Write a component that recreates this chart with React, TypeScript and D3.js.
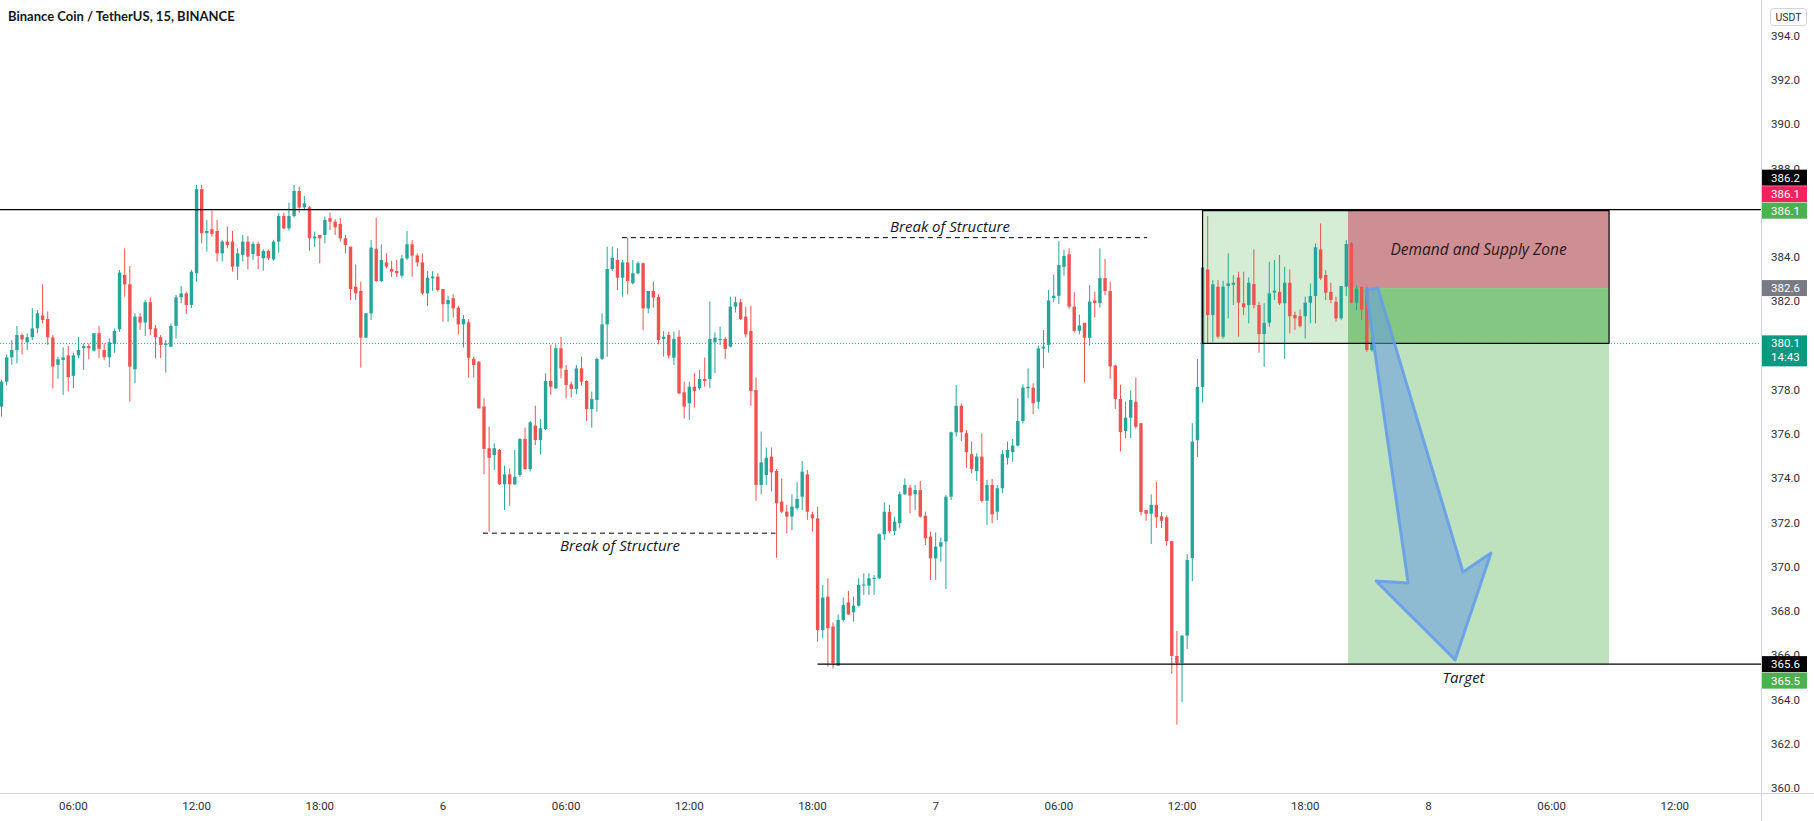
import React from "react";
import * as d3 from "d3";

const W = 1814;
const H = 821;

const title = "Binance Coin / TetherUS, 15, BINANCE";
const firstCandle = "2021-06-05T02:30:00Z";
const candleMinutes = 15;
const timeDomain = ["2021-06-05T00:00:00Z", "2021-06-08T00:00:00Z"];
const priceDomain = [360, 394];
const priceTicks = d3.range(360, 394.01, 2);
const timeTickRange = ["2021-06-05T06:00:00Z", "2021-06-08T12:00:00Z"];

const opens = [
  377.24, 378.37, 379.47, 379.8, 380.48, 380.15, 380.38, 380.78, 381.36, 381.2,
  380.37, 379.13, 379.35, 379.56, 378.63, 379.56, 379.88, 379.98, 379.77, 380.56,
  379.8, 379.47, 380.07, 380.74, 383.19, 382.77, 378.93, 381.31, 381.04, 381.96,
  380.78, 380.38, 380.03, 379.95, 380.89, 382.18, 382.36, 381.84, 383.27, 387.07,
  385.08, 385.26, 385.18, 384.17, 384.7, 384.7, 383.57, 384.1, 384.7, 384.14,
  384.6, 383.95, 384.28, 383.9, 384.7, 385.86, 385.3, 385.86, 386.99, 386.25,
  386.25, 384.85, 385.0, 385.0, 385.76, 385.6, 385.5, 384.85, 384.47, 382.66,
  382.47, 380.36, 381.46, 384.37, 382.92, 383.76, 383.46, 383.37, 383.16, 383.94,
  384.58, 384.07, 383.76, 382.36, 383.04, 383.12, 382.56, 381.87, 382.14, 381.71,
  380.96, 381.05, 379.4, 379.27, 377.24, 375.36, 375.05, 375.28, 373.73, 374.18,
  373.73, 374.15, 375.78, 374.42, 376.38, 375.73, 376.23, 378.4, 378.07, 379.88,
  378.9, 378.25, 378.04, 378.97, 378.4, 377.13, 377.54, 379.4, 380.96, 383.46,
  383.87, 383.07, 383.76, 382.82, 383.27, 383.72, 381.68, 382.47, 382.2, 380.3,
  380.48, 379.45, 380.4, 377.89, 377.39, 378.14, 378.07, 378.49, 378.49, 380.15,
  380.26, 380.3, 379.95, 381.76, 381.96, 381.31, 380.66, 377.99, 373.7, 374.15,
  374.98, 374.33, 372.95, 372.49, 372.27, 372.65, 373.17, 374.18, 372.37, 372.19,
  367.14, 368.65, 367.3, 365.53, 367.6, 368.39, 367.94, 368.24, 369.15, 369.15,
  369.45, 369.48, 371.47, 372.49, 371.62, 371.97, 373.28, 373.58, 373.28, 373.47,
  372.31, 371.36, 370.38, 370.91, 371.14, 373.17, 376.08, 377.28, 376.04, 375.09,
  374.33, 374.98, 372.98, 373.7, 372.49, 373.55, 374.93, 375.18, 375.48, 376.59,
  378.07, 378.1, 377.46, 379.87, 380.03, 382.15, 382.25, 383.56, 384.13, 381.76,
  380.67, 381.03, 380.35, 382.04, 381.92, 383.05, 382.47, 379.1, 377.59, 376.14,
  376.74, 377.46, 376.49, 372.56, 372.4, 372.8, 372.28, 372.24, 371.16, 365.97,
  365.65, 366.89, 370.39, 375.72, 378.13, 383.44, 381.38, 382.66, 380.4, 382.69,
  382.75, 383.08, 381.91, 381.83, 382.78, 381.83, 380.52, 381.03, 382.4, 382.43,
  381.91, 382.84, 381.38, 381.33, 381.33, 381.94, 382.24, 384.35, 383.19, 382.43,
  381.98, 381.23, 382.66, 384.62, 381.94, 382.66, 382.58, 379.8,
];
const highs = [
  378.45, 379.6, 380.25, 380.89, 380.55, 380.55, 381.69, 381.61, 382.77, 381.54,
  380.48, 379.5, 379.92, 379.98, 379.68, 380.38, 380.1, 380.1, 380.56, 380.89,
  380.1, 380.33, 380.78, 383.42, 384.4, 383.6, 381.46, 381.46, 382.06, 382.18,
  380.93, 380.48, 380.25, 381.0, 382.29, 382.7, 382.44, 383.42, 387.26, 387.26,
  385.68, 386.1, 385.68, 384.78, 385.38, 385.18, 384.4, 385.0, 384.96, 384.7,
  384.7, 384.35, 384.35, 384.78, 385.98, 386.01, 386.46, 387.26, 387.19, 386.76,
  386.31, 385.15, 385.0, 385.83, 386.01, 385.71, 385.76, 385.0, 384.47, 383.67,
  382.89, 381.46, 384.77, 385.78, 384.58, 384.17, 383.82, 383.87, 384.1, 385.18,
  384.77, 384.17, 384.17, 383.37, 383.37, 383.27, 382.56, 382.26, 382.32, 381.8,
  381.38, 381.2, 379.5, 379.3, 377.62, 376.33, 375.58, 375.33, 374.57, 374.45,
  375.28, 375.81, 376.29, 376.59, 377.28, 376.68, 378.75, 380.03, 380.06, 380.4,
  379.12, 378.37, 379.12, 379.5, 378.44, 377.92, 379.46, 381.46, 384.47, 384.47,
  384.4, 383.87, 384.88, 383.87, 383.8, 383.76, 382.47, 382.89, 382.32, 380.66,
  380.63, 380.63, 380.7, 378.37, 378.37, 378.75, 378.9, 379.46, 381.99, 380.6,
  380.86, 380.4, 382.21, 382.21, 382.11, 381.76, 381.8, 378.55, 376.11, 375.39,
  375.39, 374.42, 374.0, 372.8, 373.28, 373.82, 374.78, 374.38, 372.49, 372.72,
  369.18, 369.48, 367.49, 367.85, 368.61, 368.91, 368.65, 369.48, 369.7, 369.7,
  369.63, 371.51, 372.91, 372.8, 372.27, 373.4, 374.0, 373.7, 373.7, 373.88,
  372.49, 371.59, 371.56, 371.32, 373.25, 376.11, 378.22, 377.39, 376.18, 375.66,
  375.13, 376.03, 373.93, 373.97, 373.7, 375.28, 375.66, 375.78, 377.62, 378.25,
  378.97, 378.3, 380.0, 380.7, 382.52, 383.21, 384.72, 384.34, 384.4, 382.41,
  381.4, 381.03, 382.73, 382.44, 384.4, 383.92, 382.89, 379.14, 378.23, 377.46,
  377.97, 378.55, 376.49, 372.56, 373.28, 373.84, 372.48, 372.32, 371.16, 367.1,
  366.89, 370.58, 376.49, 379.39, 383.9, 385.85, 382.96, 382.96, 382.93, 384.17,
  383.19, 383.34, 383.34, 383.08, 384.35, 381.98, 381.91, 383.79, 383.87, 384.09,
  383.56, 383.44, 381.53, 381.63, 382.21, 382.81, 384.62, 385.52, 383.41, 382.84,
  382.21, 382.69, 384.77, 384.69, 382.73, 382.66, 382.66, 380.4,
];
const lows = [
  376.79, 378.2, 379.13, 379.2, 379.6, 379.8, 380.25, 380.56, 381.0, 380.03,
  378.07, 378.5, 377.77, 377.92, 378.07, 379.43, 378.9, 379.38, 379.73, 379.43,
  379.35, 379.02, 379.68, 380.63, 382.21, 377.47, 378.3, 380.71, 380.44, 380.48,
  379.43, 379.43, 378.78, 379.95, 380.33, 381.91, 381.43, 381.69, 382.89, 384.62,
  384.25, 384.93, 383.8, 383.8, 384.4, 383.34, 382.97, 383.8, 383.45, 383.87,
  383.45, 383.39, 383.87, 383.84, 384.2, 385.26, 385.2, 385.8, 386.01, 386.16,
  384.29, 384.47, 383.72, 384.62, 385.23, 385.0, 384.7, 384.17, 382.06, 382.06,
  379.0, 380.33, 381.16, 382.86, 382.86, 383.49, 383.1, 383.1, 383.07, 383.87,
  383.12, 383.57, 382.29, 381.8, 382.47, 382.44, 381.08, 381.08, 381.26, 380.51,
  379.91, 378.55, 378.55, 377.16, 374.18, 371.59, 374.38, 373.7, 372.57, 372.76,
  373.7, 374.07, 374.38, 374.3, 375.5, 375.08, 376.18, 377.77, 378.04, 378.52,
  377.62, 377.65, 377.8, 378.19, 376.59, 376.29, 377.01, 379.35, 379.5, 383.37,
  382.51, 382.21, 382.32, 382.77, 383.22, 380.7, 381.46, 381.71, 380.06, 379.5,
  379.42, 379.12, 377.8, 376.71, 376.64, 377.2, 377.99, 378.14, 378.07, 378.75,
  380.03, 379.4, 379.91, 381.5, 381.16, 380.36, 377.28, 372.98, 373.28, 373.7,
  373.4, 370.41, 372.42, 371.51, 371.66, 372.57, 372.57, 372.12, 371.59, 366.62,
  366.77, 365.49, 365.41, 365.53, 367.52, 367.82, 367.52, 368.2, 368.73, 368.73,
  368.73, 369.45, 371.21, 371.51, 371.44, 371.74, 373.25, 372.42, 372.57, 372.22,
  370.99, 369.41, 369.41, 370.23, 369.0, 373.02, 375.88, 375.69, 374.48, 374.23,
  373.88, 372.91, 371.89, 371.97, 372.12, 373.32, 374.63, 374.75, 375.43, 376.48,
  377.62, 376.9, 377.14, 378.98, 379.68, 381.96, 381.88, 383.16, 381.67, 380.59,
  380.51, 378.34, 380.0, 381.28, 381.72, 382.28, 378.5, 377.14, 375.21, 375.82,
  375.82, 376.25, 372.32, 372.08, 371.03, 371.75, 371.75, 370.95, 365.17, 362.87,
  363.88, 366.29, 369.35, 374.97, 377.43, 380.1, 380.17, 380.32, 380.32, 381.23,
  381.83, 380.4, 381.38, 381.0, 381.68, 379.68, 379.04, 380.85, 382.06, 381.83,
  379.4, 380.55, 380.7, 380.82, 380.32, 381.0, 381.0, 382.96, 382.06, 381.91,
  381.08, 381.15, 382.24, 381.91, 381.6, 381.15, 379.72, 379.72,
];
const closes = [
  378.37, 379.47, 379.8, 380.48, 380.28, 380.38, 380.78, 381.46, 381.16, 380.37,
  379.05, 379.38, 379.47, 378.57, 379.56, 379.8, 379.98, 379.88, 380.56, 379.85,
  379.47, 380.15, 380.66, 383.3, 382.77, 379.05, 381.31, 381.04, 381.96, 380.74,
  380.38, 380.03, 380.1, 380.89, 382.18, 382.36, 381.84, 383.34, 387.07, 385.08,
  385.18, 385.05, 384.17, 384.7, 384.55, 383.57, 384.17, 384.7, 384.02, 384.6,
  384.05, 384.28, 383.95, 384.7, 385.86, 385.3, 385.86, 386.99, 386.24, 386.43,
  384.85, 384.93, 384.85, 385.68, 385.6, 385.35, 384.85, 384.55, 382.56, 382.36,
  380.36, 381.46, 384.43, 382.92, 383.87, 383.57, 383.34, 383.27, 383.94, 384.58,
  384.07, 383.76, 382.36, 383.07, 383.12, 382.51, 381.87, 382.06, 381.68, 380.96,
  381.2, 379.45, 379.12, 377.16, 375.33, 374.93, 375.36, 373.73, 374.18, 373.73,
  374.07, 375.78, 374.42, 376.53, 375.73, 376.26, 378.4, 378.14, 379.88, 378.97,
  378.22, 378.04, 378.97, 378.37, 377.13, 377.58, 379.4, 380.96, 383.46, 383.97,
  383.07, 383.76, 382.92, 383.27, 383.72, 381.68, 382.47, 382.17, 380.25, 380.4,
  379.55, 380.3, 377.84, 377.24, 378.14, 377.95, 378.49, 378.4, 380.3, 380.36,
  380.3, 379.85, 381.76, 381.96, 381.2, 380.51, 377.95, 373.7, 374.72, 374.93,
  374.27, 372.87, 372.49, 372.27, 372.72, 373.07, 374.3, 372.49, 372.19, 367.14,
  368.61, 367.22, 365.64, 367.6, 368.27, 367.85, 368.24, 369.18, 369.2, 369.48,
  369.5, 371.47, 372.49, 371.62, 372.04, 373.28, 373.7, 373.22, 373.47, 372.27,
  371.29, 370.38, 370.91, 371.11, 373.17, 376.08, 377.28, 376.08, 375.18, 374.42,
  374.98, 372.98, 373.7, 372.37, 373.55, 375.09, 375.28, 375.48, 376.59, 378.1,
  378.14, 377.39, 379.87, 379.95, 382.04, 382.25, 383.64, 384.05, 381.76, 380.67,
  380.91, 380.35, 381.99, 381.92, 383.05, 382.47, 379.06, 377.59, 376.09, 376.74,
  377.54, 376.33, 372.48, 372.4, 372.8, 372.24, 372.08, 371.16, 365.97, 365.65,
  366.89, 370.31, 375.66, 378.13, 383.53, 381.38, 382.77, 380.4, 382.66, 382.81,
  382.84, 381.94, 381.73, 382.84, 381.83, 380.52, 381.03, 382.36, 382.48, 381.91,
  382.84, 381.33, 381.23, 380.88, 381.94, 382.24, 384.44, 383.04, 382.39, 382.06,
  381.23, 382.69, 384.59, 381.94, 382.58, 381.63, 379.8, 380.07,
];

// Annotation anchors (time, price)
const resistanceLevel = 386.15;
const supportLevel = 365.6;
const supportStart = "2021-06-06T18:15:00Z";
const lastPrice = 380.1;
const bosUpper = { price: 384.88, from: "2021-06-06T08:43:00Z", to: "2021-06-07T10:18:00Z" };
const bosLower = { price: 371.52, from: "2021-06-06T01:57:00Z", to: "2021-06-06T16:12:00Z" };
const zoneBox = { from: "2021-06-07T13:00:00Z", to: "2021-06-08T08:48:00Z", top: 386.1, bottom: 380.1 };
const position = { from: "2021-06-07T20:05:00Z", to: "2021-06-08T08:48:00Z", stop: 386.1, entry: 382.6, target: 365.6 };
const arrowTimes = [68.96, 69.54, 73.69, 75.05, 73.3, 69.45, 71.01];
const arrowPrices = [382.51, 382.6, 369.76, 370.62, 365.79, 369.36, 369.27];

const badgeValues = ["386.2", "386.1", "386.1", "382.6", "365.6", "365.5"];
const badgeColors = ["#000000", "#f0245c", "#4caf50", "#787b86", "#000000", "#4caf50"];
const badgeAnchors = [386.1, 386.1, 386.1, 382.6, 365.6, 365.6];
const badgeShifts = [-2, -1, 0, 0, 0, 1];
const countdown = "14:43";

const UP = "#26a69a";
const DOWN = "#ef5350";

export default function App() {
  const x = d3
    .scaleUtc()
    .domain(timeDomain.map((d) => new Date(d)))
    .range([-49.8, 1428.4]);
  const y = d3.scaleLinear().domain(priceDomain).range([788, 35.9]);
  const t0 = new Date(timeDomain[0]).getTime();
  const xh = (h: number) => x(new Date(t0 + h * 3600000));
  const start = new Date(firstCandle).getTime();
  const candles = opens.map((o, i) => ({
    t: new Date(start + i * candleMinutes * 60000),
    o,
    h: highs[i],
    l: lows[i],
    c: closes[i],
  }));
  const axisX = 1761;
  const timeTicks = d3.utcHour
    .every(6)!
    .range(new Date(timeTickRange[0]), new Date(new Date(timeTickRange[1]).getTime() + 1));
  const fmtTick = (d: Date) =>
    d.getUTCHours() === 0 ? d3.utcFormat("%-d")(d) : d3.utcFormat("%H:%M")(d);

  const arrowPts = arrowTimes.map((h, i) => [xh(h), y(arrowPrices[i])]);
  const bw = 3.4;
  const font = "Roboto, 'Liberation Sans', sans-serif";
  const italic = "'Open Sans', 'Noto Sans', sans-serif";

  const zx0 = x(new Date(zoneBox.from));
  const zx1 = x(new Date(zoneBox.to));
  const px0 = x(new Date(position.from));
  const px1 = x(new Date(position.to));

  return (
    <svg
      width={W}
      height={H}
      viewBox={`0 0 ${W} ${H}`}
      style={{ position: "absolute", left: 0, top: 0, display: "block", background: "#fff" }}
    >
      <rect x={0} y={0} width={W} height={H} fill="#ffffff" />
      <defs>
        <clipPath id="plot">
          <rect x={0} y={0} width={axisX} height={793} />
        </clipPath>
      </defs>
      <g clipPath="url(#plot)">
        {/* zone box fill */}
        <rect x={zx0} y={y(zoneBox.top)} width={zx1 - zx0} height={y(zoneBox.bottom) - y(zoneBox.top)} fill="#d5edd5" />
        {/* position tool */}
        <rect x={px0} y={y(position.stop)} width={px1 - px0} height={y(position.entry) - y(position.stop)} fill="#cd8e94" />
        <rect x={px0} y={y(position.entry)} width={px1 - px0} height={y(zoneBox.bottom) - y(position.entry)} fill="#83c783" />
        <rect x={px0} y={y(zoneBox.bottom)} width={px1 - px0} height={y(position.target) - y(zoneBox.bottom)} fill="#bde2bd" />

        {/* last price dotted line */}
        <line x1={0} x2={axisX} y1={y(lastPrice)} y2={y(lastPrice)} stroke="#26a69a" strokeWidth={1} strokeDasharray="1 2" />

        {/* candles */}
        {candles.map((d, i) => {
          const cx = x(d.t);
          const col = d.c >= d.o ? UP : DOWN;
          const top = y(Math.max(d.o, d.c));
          const bot = y(Math.min(d.o, d.c));
          return (
            <g key={i}>
              <line x1={cx} x2={cx} y1={y(d.h)} y2={y(d.l)} stroke={col} strokeWidth={1} />
              <rect x={cx - bw / 2} y={top} width={bw} height={Math.max(1, bot - top)} fill={col} />
            </g>
          );
        })}

        {/* box border */}
        <rect x={zx0} y={y(zoneBox.top)} width={zx1 - zx0} height={y(zoneBox.bottom) - y(zoneBox.top)} fill="none" stroke="#000" strokeWidth={1.2} />

        {/* horizontal lines */}
        <line x1={0} x2={axisX} y1={y(resistanceLevel)} y2={y(resistanceLevel)} stroke="#000" strokeWidth={1.3} />
        <line x1={x(new Date(supportStart))} x2={axisX} y1={y(supportLevel)} y2={y(supportLevel)} stroke="#000" strokeWidth={1.2} />

        {/* break of structure */}
        <line x1={x(new Date(bosUpper.from))} x2={x(new Date(bosUpper.to))} y1={y(bosUpper.price)} y2={y(bosUpper.price)} stroke="#000" strokeWidth={1} strokeDasharray="5 4" />
        <line x1={x(new Date(bosLower.from))} x2={x(new Date(bosLower.to))} y1={y(bosLower.price)} y2={y(bosLower.price)} stroke="#000" strokeWidth={1} strokeDasharray="5 4" />
        <text x={950} y={y(bosUpper.price) - 6} textAnchor="middle" fontFamily={italic} fontStyle="italic" fontSize={15} fill="#131722">Break of Structure</text>
        <text x={620} y={y(bosLower.price) + 18} textAnchor="middle" fontFamily={italic} fontStyle="italic" fontSize={15} fill="#131722">Break of Structure</text>

        {/* arrow */}
        <polygon
          points={arrowPts.map((p) => p.join(",")).join(" ")}
          fill="rgba(105,155,228,0.55)"
          stroke="rgba(100,155,235,0.85)"
          strokeWidth={3}
          strokeLinejoin="round"
        />

        <text x={(px0 + px1) / 2} y={y(384.1)} textAnchor="middle" fontFamily={italic} fontStyle="italic" fontSize={15.5} fill="#2a1a1a">Demand and Supply Zone</text>
        <text x={(px0 + px1) / 2 - 15} y={y(supportLevel) + 19} textAnchor="middle" fontFamily={italic} fontStyle="italic" fontSize={15} fill="#131722">Target</text>
      </g>

      {/* title */}
      <text x={8} y={21} fontFamily="Lato, 'Open Sans', sans-serif" fontWeight={700} fontSize={13} fill="#131722">{title}</text>

      {/* axes lines */}
      <line x1={axisX + 0.5} x2={axisX + 0.5} y1={0} y2={H} stroke="#d1d4dc" strokeWidth={1} />
      <line x1={0} x2={W} y1={793.5} y2={793.5} stroke="#d1d4dc" strokeWidth={1} />

      {/* price ticks */}
      {priceTicks.map((p) => (
        <text key={p} x={axisX + 10} y={y(p)} dy="0.35em" fontFamily={font} fontSize={11.5} fill="#2a2e39">
          {d3.format(".1f")(p)}
        </text>
      ))}

      {/* time ticks */}
      {timeTicks.map((t, i) => (
        <text key={i} x={x(t)} y={806} dy="0.35em" textAnchor="middle" fontFamily={font} fontSize={11.5} fill="#2a2e39">
          {fmtTick(t)}
        </text>
      ))}

      {/* USDT label */}
      <rect x={axisX + 9.5} y={8.5} width={36} height={17} rx={3} fill="#fff" stroke="#d1d4dc" />
      <text x={axisX + 27.5} y={17} dy="0.35em" textAnchor="middle" fontFamily={font} fontSize={10.5} fill="#2a2e39">USDT</text>

      {/* badges */}
      {badgeValues.map((v, i) => {
        const cy = y(badgeAnchors[i]) + badgeShifts[i] * 16.5;
        return (
          <g key={i}>
            <rect x={axisX + 1} y={cy - 8} width={45} height={16} fill={badgeColors[i]} />
            <text x={axisX + 10} y={cy} dy="0.35em" fontFamily={font} fontSize={11.5} fill="#fff">{v}</text>
          </g>
        );
      })}
      {/* last price badge */}
      <rect x={axisX + 1} y={y(lastPrice) - 8} width={45} height={31} fill="#089981" />
      <text x={axisX + 10} y={y(lastPrice)} dy="0.35em" fontFamily={font} fontSize={11.5} fill="#fff">{d3.format(".1f")(lastPrice)}</text>
      <text x={axisX + 10} y={y(lastPrice) + 14} dy="0.35em" fontFamily={font} fontSize={11.5} fill="#fff">{countdown}</text>
    </svg>
  );
}
